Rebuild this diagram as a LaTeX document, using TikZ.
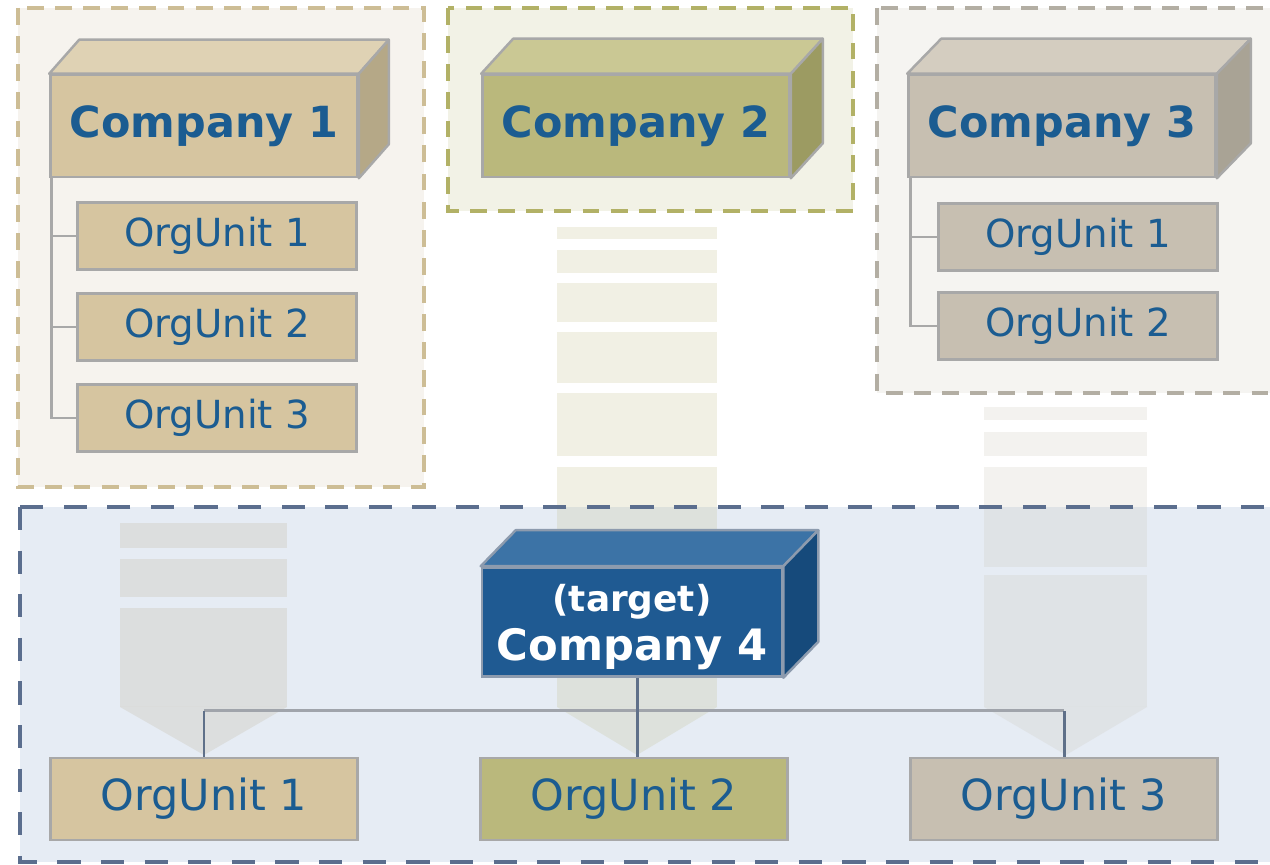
\documentclass[tikz,border=0pt]{standalone}
\usepackage{fontspec}
\setmainfont{DejaVu Sans}
\usepackage{tikz}
\usetikzlibrary{calc}

\definecolor{boxline}{HTML}{A8A8A8}
\definecolor{textblue}{HTML}{1B5C91}
\definecolor{tanfront}{HTML}{D6C5A0}
\definecolor{tantop}{HTML}{DFD2B4}
\definecolor{tanside}{HTML}{B5A887}
\definecolor{olivefront}{HTML}{BAB87C}
\definecolor{olivetop}{HTML}{CAC894}
\definecolor{oliveside}{HTML}{9C9B62}
\definecolor{greyfront}{HTML}{C7BFB1}
\definecolor{greytop}{HTML}{D4CDC0}
\definecolor{greyside}{HTML}{A9A395}
\definecolor{bluefront}{HTML}{1F5A92}
\definecolor{bluetop}{HTML}{3C73A6}
\definecolor{blueside}{HTML}{164A7B}
\definecolor{blueline}{HTML}{8D9BAE}
\definecolor{regionA}{HTML}{F6F3EE}
\definecolor{regionB}{HTML}{F2F2E6}
\definecolor{regionC}{HTML}{F5F4F1}
\definecolor{regionD}{HTML}{E6ECF4}
\definecolor{dashA}{HTML}{CDBD95}
\definecolor{dashB}{HTML}{B2B166}
\definecolor{dashC}{HTML}{B3AEA3}
\definecolor{dashD}{HTML}{5B6E8E}
\definecolor{stemline}{HTML}{5F7089}
\definecolor{barline}{HTML}{A0A4AB}

% top and side faces of a company block: node, top colour, side colour, depth
\newcommand{\blockfaces}[4]{%
  \filldraw[fill=#2,draw=boxline,line width=0.7pt,line join=round](#1.north west)--([shift={#4}]#1.north west)--([shift={#4}]#1.north east)--(#1.north east)--cycle;
  \filldraw[fill=#3,draw=boxline,line width=0.7pt,line join=round](#1.north east)--([shift={#4}]#1.north east)--([shift={#4}]#1.south east)--(#1.south east)--cycle;}

\begin{document}
\begin{tikzpicture}[x=0.01cm,y=-0.01cm,
    company/.style={draw=boxline,line width=0.7pt,minimum width=3.07cm,minimum height=1.02cm,inner sep=0pt,text=textblue,font=\fontsize{12.2}{14}\selectfont\bfseries},
    orgunit/.style={draw=boxline,line width=0.7pt,minimum width=2.79cm,minimum height=0.67cm,inner sep=0pt,text=textblue,font=\fontsize{11}{13}\selectfont},
    bigunit/.style={orgunit,minimum width=3.07cm,minimum height=0.82cm,font=\fontsize{12.2}{14}\selectfont},
    region/.style={line width=1pt,dash pattern=on 4.8pt off 3.2pt},
    branch/.style={draw=boxline,line width=0.8pt},
    stem/.style={draw=stemline,line width=0.85pt},
    fade/.style={opacity=0.2}]
        \clip(0,0)rectangle(1270,865);
        \fill[white](0,0)rectangle(1270,865);
        % Regions
        \fill[regionA](18,8)rectangle(424,487);
        \fill[regionB](448,8)rectangle(853,211);
        \fill[regionC](877,8)rectangle(1290,393);
        \fill[regionD](20,507)rectangle(1290,862);
        % Faded arrows
        \foreach \ya/\yb in {523/548,559/597,608/707}
            \fill[tanside,fade](120,\ya)rectangle(287,\yb);
        \fill[tanside,fade](120,707)--(287,707)--(204,755)--cycle;
        \foreach \ya/\yb in {227/239,250/273,283/322,332/383,393/456,467/707}
            \fill[olivefront,fade](557,\ya)rectangle(717,\yb);
        \fill[olivefront,fade](557,707)--(717,707)--(637,755)--cycle;
        \foreach \ya/\yb in {407/420,432/456,467/567,575/707}
            \fill[greyfront,fade](984,\ya)rectangle(1147,\yb);
        \fill[greyfront,fade](984,707)--(1147,707)--(1066,755)--cycle;
        % Region borders
        \draw[region,dashA](18,8)rectangle(424,487);
        \draw[region,dashB](448,8)rectangle(853,211);
        \draw[region,dashC](877,8)rectangle(1290,393);
        \draw[dashD,line width=1.15pt,dash pattern=on 6.6pt off 5.8pt](20,507)rectangle(1290,862);
        % Source companies
        \node[company,fill=tanfront](c1)at(204,126){Company 1};
        \blockfaces{c1}{tantop}{tanside}{(30,-34)}
        \node[company,fill=olivefront](c2)at(636,126){Company 2};
        \blockfaces{c2}{olivetop}{oliveside}{(32,-35)}
        \node[company,fill=greyfront](c3)at(1062,126){Company 3};
        \blockfaces{c3}{greytop}{greyside}{(34,-35)}
        % Source org units
        \node[orgunit,fill=tanfront](c1u1)at(217,236){OrgUnit 1};
        \node[orgunit,fill=tanfront](c1u2)at(217,327){OrgUnit 2};
        \node[orgunit,fill=tanfront](c1u3)at(217,418){OrgUnit 3};
        \node[orgunit,fill=greyfront](c3u1)at(1078,237){OrgUnit 1};
        \node[orgunit,fill=greyfront](c3u2)at(1078,326){OrgUnit 2};
        \draw[branch]([shift={(2,0)}]c1.south west)|-(c1u3.west);
        \draw[branch]([shift={(2,0)}]c1.south west|-c1u1.west)--(c1u1.west);
        \draw[branch]([shift={(2,0)}]c1.south west|-c1u2.west)--(c1u2.west);
        \draw[branch]([shift={(3,0)}]c3.south west)|-(c3u2.west);
        \draw[branch]([shift={(3,0)}]c3.south west|-c3u1.west)--(c3u1.west);
        % Target company
        \node[draw=blueline,line width=0.7pt,fill=bluefront,minimum width=3.0cm,minimum height=1.09cm,inner sep=0pt,text=white,align=center,font=\fontsize{12.3}{14}\selectfont\bfseries](c4)at(632,622){};
        \node[text=white,align=center,font=\fontsize{12.3}{14}\selectfont\bfseries,inner sep=0pt](c4text)at(632,627){{\fontsize{10.2}{12}\selectfont(target)}\\Company 4};
        \filldraw[fill=bluetop,draw=blueline,line width=0.7pt,line join=round](c4.north west)--([shift={(35,-36)}]c4.north west)--([shift={(35,-36)}]c4.north east)--(c4.north east)--cycle;
        \filldraw[fill=blueside,draw=blueline,line width=0.7pt,line join=round](c4.north east)--([shift={(35,-36)}]c4.north east)--([shift={(35,-36)}]c4.south east)--(c4.south east)--cycle;
        % Target org units
        \node[bigunit,fill=tanfront](u1)at(204,799){OrgUnit 1};
        \node[bigunit,fill=olivefront](u2)at(634,799){OrgUnit 2};
        \node[bigunit,fill=greyfront](u3)at(1064,799){OrgUnit 3};
        \draw[barline,line width=0.85pt](u1.north|-0,711)--(u3.north|-0,711);
        \draw[stem](c4.south-|637,0)--(u2.north-|637,0);
        \draw[stem](u1.north)--(u1.north|-0,711);
        \draw[stem](u3.north)--(u3.north|-0,711);
    \end{tikzpicture}
\end{document}
